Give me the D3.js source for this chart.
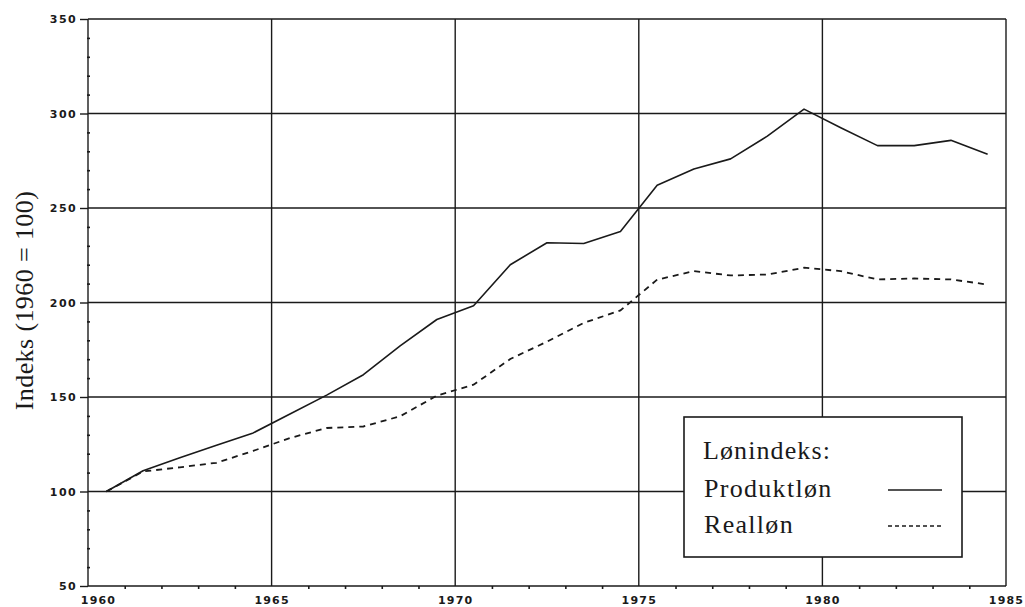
<!DOCTYPE html>
<html>
<head>
<meta charset="utf-8">
<script src="https://cdn.jsdelivr.net/npm/d3@7"></script>
<style>
  html, body { margin: 0; padding: 0; background: #fff; }
  svg { display: block; }
</style>
</head>
<body>
<svg id="chart" width="1025" height="607"></svg>
<script>
// ---- Data ----
const years = [1960.5, 1961.5, 1962.5, 1963.5, 1964.5, 1965.5, 1966.5, 1967.5, 1968.5, 1969.5,
               1970.5, 1971.5, 1972.5, 1973.5, 1974.5, 1975.5, 1976.5, 1977.5, 1978.5, 1979.5,
               1980.5, 1981.5, 1982.5, 1983.5, 1984.5];
const produktlon = [100, 111, 117.8, 124.5, 131, 141, 151, 161.8, 177, 191,
                    198.3, 220, 231.6, 231.2, 237.6, 262, 270.6, 276, 288, 302.3,
                    292.5, 283, 283, 285.8, 278.4];
const reallon = [100, 110.6, 112.8, 115.2, 121.5, 128.3, 133.6, 134.4, 139.8, 150.7,
                 156.5, 170.1, 179.3, 189.2, 195.8, 212.1, 216.6, 214.3, 214.8, 218.4,
                 216.6, 212.2, 212.7, 212.2, 209.5];
const xTicks = [1960, 1965, 1970, 1975, 1980, 1985];
const yTicks = [50, 100, 150, 200, 250, 300, 350];
const seriesNames = ["Produktløn", "Realløn"];
const legendTitle = "Lønindeks:";
const yLabel = "Indeks (1960 = 100)";

(function () {
// ---- Layout ----
const svg = d3.select("#chart");
const pl = 88, pr = 1006, pt = 19, pb = 586;
const x = d3.scaleLinear().domain([1960, 1985]).range([pl, pr]);
const y = d3.scaleLinear().domain([50, 350]).range([pb, pt]);
const ink = "#1a1a1a";

// gridlines
const g = svg.append("g");
g.selectAll("line.hg").data(yTicks).enter().append("line")
  .attr("x1", pl).attr("x2", pr)
  .attr("y1", d => y(d)).attr("y2", d => y(d))
  .attr("stroke", ink).attr("stroke-width", 1.4);
g.selectAll("line.vg").data(xTicks).enter().append("line")
  .attr("y1", pt).attr("y2", pb)
  .attr("x1", d => x(d)).attr("x2", d => x(d))
  .attr("stroke", ink).attr("stroke-width", 1.4);

// y axis with major ticks outward
const yAxis = d3.axisLeft(y).tickValues(yTicks).tickSize(8).tickPadding(3).tickFormat(d3.format("d"));
const ya = svg.append("g").attr("transform", `translate(${pl},0)`).call(yAxis);
ya.select(".domain").remove();
ya.selectAll(".tick line").attr("stroke", ink).attr("stroke-width", 1.4);
ya.selectAll(".tick text")
  .attr("font-family", "'DejaVu Sans', sans-serif").attr("font-weight", "bold")
  .attr("font-size", 11).attr("letter-spacing", 1.4).attr("fill", ink);

// y minor ticks (every 10)
const yMinor = d3.range(60, 350, 10).filter(v => v % 50 !== 0);
svg.append("g").attr("transform", `translate(${pl - 1},0)`)
  .call(d3.axisRight(y).tickValues(yMinor).tickSize(3).tickFormat(""))
  .call(s => s.select(".domain").remove())
  .selectAll(".tick line").attr("stroke", ink).attr("stroke-width", 1.6);

// x axis
const xAxis = d3.axisBottom(x).tickValues(xTicks).tickSize(0).tickPadding(10).tickFormat(d3.format("d"));
const xa = svg.append("g").attr("transform", `translate(0,${pb})`).call(xAxis);
xa.select(".domain").remove();
xa.selectAll(".tick text")
  .attr("font-family", "'DejaVu Sans', sans-serif").attr("font-weight", "bold")
  .attr("font-size", 11).attr("letter-spacing", 1.2).attr("fill", ink)
  .attr("dx", (d, i) => i === 0 ? 10 : 0);

// x minor ticks (every year)
const xMinor = d3.range(1961, 1985).filter(v => v % 5 !== 0);
svg.append("g").attr("transform", `translate(0,${pb})`)
  .call(d3.axisBottom(x).tickValues(xMinor).tickSize(3).tickFormat(""))
  .call(s => s.select(".domain").remove())
  .selectAll(".tick line").attr("stroke", ink).attr("stroke-width", 1.6);

// y axis label
svg.append("text")
  .attr("transform", `translate(33,${(pt + pb) / 2 - 2}) rotate(-90)`)
  .attr("text-anchor", "middle")
  .attr("font-family", "'Liberation Serif', 'Times New Roman', serif")
  .attr("font-size", 26).attr("letter-spacing", 0.4).attr("fill", ink)
  .text(yLabel);

// lines
const line = d3.line().x(d => x(d[0])).y(d => y(d[1]));
const pData = years.map((t, i) => [t, produktlon[i]]);
const rData = years.map((t, i) => [t, reallon[i]]);
svg.append("path").datum(pData).attr("d", line)
  .attr("fill", "none").attr("stroke", ink).attr("stroke-width", 1.6).attr("stroke-linejoin", "round");
svg.append("path").datum(rData).attr("d", line)
  .attr("fill", "none").attr("stroke", ink).attr("stroke-width", 1.8)
  .attr("stroke-dasharray", "6,5");

// legend
const lg = svg.append("g");
lg.append("rect").attr("x", 684).attr("y", 417).attr("width", 278).attr("height", 140)
  .attr("fill", "#fff").attr("stroke", ink).attr("stroke-width", 1.6);
const serif = "'Liberation Serif', 'Times New Roman', serif";
lg.append("text").attr("x", 703).attr("y", 459).attr("font-family", serif)
  .attr("font-size", 26).attr("letter-spacing", 1.1).attr("fill", ink).text(legendTitle);
const legRows = [{name: seriesNames[0], dash: null, ty: 497, ly: 490},
                 {name: seriesNames[1], dash: "4,3", ty: 533, ly: 526}];
legRows.forEach(r => {
  lg.append("text").attr("x", 704).attr("y", r.ty).attr("font-family", serif)
    .attr("font-size", 26).attr("letter-spacing", 1.3).attr("fill", ink).text(r.name);
  lg.append("line").attr("x1", 888).attr("x2", 942).attr("y1", r.ly).attr("y2", r.ly)
    .attr("stroke", ink).attr("stroke-width", 1.5)
    .attr("stroke-dasharray", r.dash);
});
})();
</script>
</body>
</html>
